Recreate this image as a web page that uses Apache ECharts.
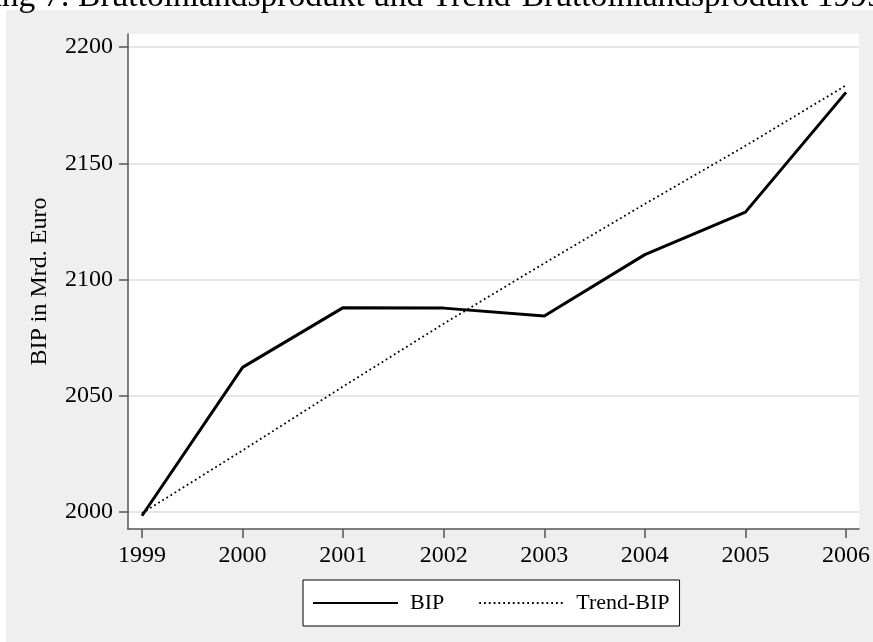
<!DOCTYPE html>
<html>
<head>
<meta charset="utf-8">
<script src="https://cdn.jsdelivr.net/npm/echarts@6/dist/echarts.min.js"></script>
<style>
html,body{margin:0;padding:0;background:#fff;}
#chart{width:873px;height:642px;}
</style>
</head>
<body>
<div id="chart"></div>
<script>
const titleText = 'Abbildung 7: Bruttoinlandsprodukt und Trend-Bruttoinlandsprodukt 1999-2006';
const yAxisName = 'BIP in Mrd. Euro';
const years = [1999, 2000, 2001, 2002, 2003, 2004, 2005, 2006];
const bip = [1998.4, 2062.2, 2087.9, 2087.7, 2084.3, 2110.7, 2129.0, 2180.5];
const trend = [1999.5, 2026.5, 2054.0, 2081.0, 2107.0, 2132.5, 2157.5, 2183.5];
const yTicks = [2000, 2050, 2100, 2150, 2200];
const seriesNames = ['BIP', 'Trend-BIP'];

const FONT = 'Liberation Serif';
const chart = echarts.init(document.getElementById('chart'), null, {renderer: 'canvas'});
chart.setOption({
  animation: false,
  backgroundColor: '#fff',
  graphic: [
    {type: 'rect', z: -10, silent: true, shape: {x: 6, y: 10, width: 880, height: 650}, style: {fill: '#efefef'}},
    {type: 'text', z: 10, left: -108, top: -20, style: {text: titleText, font: '33.5px "Liberation Serif"', fill: '#000'}}
  ],
  grid: {left: 128, right: 12, top: 34, bottom: 113, show: true, backgroundColor: '#fff', borderWidth: 0, containLabel: false},
  legend: {
    left: 303, top: 580,
    data: seriesNames,
    orient: 'horizontal',
    itemWidth: 85, itemHeight: 14, itemGap: 34,
    padding: [12, 10, 12, 9],
    borderColor: '#000', borderWidth: 1, backgroundColor: '#fff', borderRadius: 0,
    itemStyle: {color: 'rgba(0,0,0,0)', borderWidth: 0, opacity: 0},
    textStyle: {fontFamily: FONT, fontSize: 22, color: '#000', padding: [0, 0, 0, 7]}
  },
  xAxis: {
    type: 'value', min: 1998.861, max: 2006.129,
    axisLine: {show: true, onZero: false, lineStyle: {color: '#555', width: 1.5}},
    axisTick: {show: true, length: 9, lineStyle: {color: '#555', width: 1.5}, customValues: years},
    axisLabel: {fontFamily: FONT, fontSize: 24, color: '#000', margin: 15, customValues: years, formatter: v => String(v)},
    splitLine: {show: false}
  },
  yAxis: {
    type: 'value', min: 1992.7, max: 2205.6,
    name: yAxisName, nameLocation: 'middle', nameGap: 76, nameRotate: 90,
    nameTextStyle: {fontFamily: FONT, fontSize: 24, color: '#000'},
    axisLine: {show: true, onZero: false, lineStyle: {color: '#555', width: 1.5}},
    axisTick: {show: true, length: 9, lineStyle: {color: '#555', width: 1.5}, customValues: yTicks},
    axisLabel: {fontFamily: FONT, fontSize: 24, color: '#000', margin: 15, customValues: yTicks, formatter: v => String(v)},
    splitLine: {show: true, lineStyle: {color: '#e6e6e6', width: 2}}
  },
  series: [
    {
      name: seriesNames[0], type: 'line', symbol: 'none',
      data: years.map((y, i) => [y, bip[i]]),
      lineStyle: {color: '#000', width: 3}, itemStyle: {color: '#000'}, z: 3
    },
    {
      name: seriesNames[1], type: 'line', symbol: 'none',
      data: years.map((y, i) => [y, trend[i]]),
      lineStyle: {color: '#000', width: 1.8, type: [1.8, 3]}, itemStyle: {color: '#000'}, z: 4
    }
  ]
});
</script>
</body>
</html>
